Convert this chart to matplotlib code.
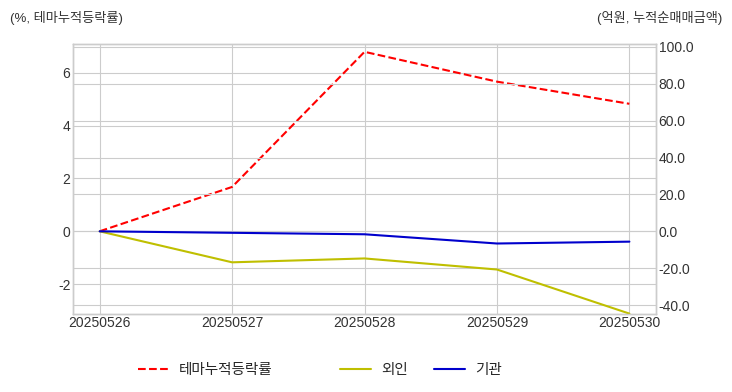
import matplotlib.pyplot as plt
import matplotlib.ticker as mticker

dates = ['20250526', '20250527', '20250528', '20250529', '20250530']
theme_ret = [0.0, 1.68, 6.8, 5.67, 4.83]
foreign = [0.0, -16.8, -14.7, -20.7, -44.6]
institution = [0.0, -0.8, -1.6, -6.6, -5.6]

plt.style.use('seaborn-v0_8-whitegrid')
plt.rcParams['font.family'] = ['Liberation Sans', 'Noto Sans CJK KR', 'DejaVu Sans']
plt.rcParams['axes.unicode_minus'] = False

fig, ax1 = plt.subplots(figsize=(7.32, 3.92), dpi=100)
fig.subplots_adjust(left=0.1, right=0.896, top=0.888, bottom=0.2)

x = range(len(dates))
l1, = ax1.plot(x, theme_ret, color='red', linestyle='--', linewidth=1.5, label='테마누적등락률')
ax1.set_ylim(-3.12, 7.1)
ax1.set_xticks(list(x))
ax1.set_xticklabels(dates)

ax2 = ax1.twinx()
l2, = ax2.plot(x, foreign, color='#bfbf00', linewidth=1.5, label='외인')
l3, = ax2.plot(x, institution, color='#0000cc', linewidth=1.5, label='기관')
ax2.set_ylim(-44.6, 101.6)
ax2.yaxis.set_major_formatter(mticker.FormatStrFormatter('%.1f'))
ax2.grid(True)

for ax in (ax1, ax2):
    ax.tick_params(labelsize=10, colors='#333333', pad=2)
    for s in ax.spines.values():
        s.set_visible(True)
        s.set_color('#cccccc')

fig.text(0.014, 0.955, '(%, 테마누적등락률)', fontsize=9.5, color='#333333', ha='left', va='center')
fig.text(0.986, 0.955, '(억원, 누적순매매금액)', fontsize=9.5, color='#333333', ha='right', va='center')

fig.legend(handles=[l1], loc='center left', bbox_to_anchor=(0.181, 0.055),
           frameon=False, fontsize=10.5, handlelength=2.1, handletextpad=0.7, borderaxespad=0)
fig.legend(handles=[l2, l3], loc='center left', bbox_to_anchor=(0.457, 0.055), ncol=2,
           frameon=False, fontsize=10.5, handlelength=2.1, handletextpad=0.7,
           columnspacing=1.8, borderaxespad=0)

fig.savefig('out.png')
